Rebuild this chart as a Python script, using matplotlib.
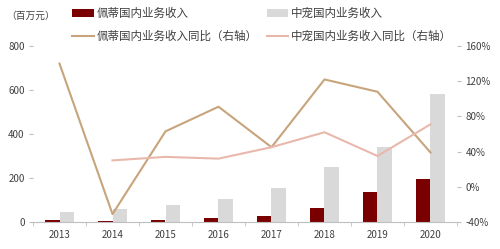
import matplotlib.pyplot as plt
import numpy as np

plt.rcParams['font.family'] = ['Noto Sans CJK SC', 'DejaVu Sans']

years = ['2013', '2014', '2015', '2016', '2017', '2018', '2019', '2020']
peidi_rev = [8, 4, 8, 18, 27, 64, 136, 195]
zhongchong_rev = [44, 59, 79, 106, 153, 250, 340, 580]
peidi_yoy = [140, -31, 63, 91, 45, 122, 108, 39]
zhongchong_yoy = [None, 30, 34, 32, 45, 62, 35, 71]

dark_red = '#7a0000'
light_gray = '#d9d9d9'
tan = '#c8a47c'
pink = '#e9b8ac'
txt = '#404040'

fig = plt.figure(figsize=(5, 2.49), dpi=100)
ax = fig.add_axes([33 / 500, 1 - 222 / 249, 424 / 500, 176 / 249])
ax2 = ax.twinx()

x = np.arange(len(years))
w = 0.28
b1 = ax.bar(x - w / 2, peidi_rev, w, color=dark_red, label='佩蒂国内业务收入', zorder=2)
b2 = ax.bar(x + w / 2, zhongchong_rev, w, color=light_gray, label='中宠国内业务收入', zorder=2)

zc = [np.nan if v is None else v for v in zhongchong_yoy]
l1, = ax2.plot(x, peidi_yoy, color=tan, lw=1.5, label='佩蒂国内业务收入同比（右轴）')
l2, = ax2.plot(x, zc, color=pink, lw=1.5, label='中宠国内业务收入同比（右轴）')

ax.set_xlim(-0.5, len(years) - 0.5)
ax.set_ylim(0, 800)
ax.set_yticks([0, 200, 400, 600, 800])
ax2.set_ylim(-40, 160)
ax2.set_yticks([-40, 0, 40, 80, 120, 160])
ax2.set_yticklabels([f'{v}%' for v in [-40, 0, 40, 80, 120, 160]])

ax.set_xticks(x)
ax.set_xticklabels(years)
ax.set_xticks(np.arange(len(years) + 1) - 0.5, minor=True)
ax.tick_params(axis='x', which='major', length=0, pad=6)
ax.tick_params(axis='x', which='minor', length=3, color='#bfbfbf')

for a in (ax, ax2):
    for s in ['top', 'left', 'right']:
        a.spines[s].set_visible(False)
    a.spines['bottom'].set_color('#bfbfbf')
    a.tick_params(labelsize=7, colors=txt)
ax.tick_params(axis='y', length=3, color='#bfbfbf', pad=3)
ax2.tick_params(axis='y', length=3, color='#bfbfbf', pad=3)
ax2.spines['bottom'].set_visible(False)

fig.text(6 / 500, 1 - 16 / 249, '（百万元）', fontsize=7, color=txt, va='center')

fig.legend([b1, l1, b2, l2],
           [b1.get_label(), l1.get_label(), b2.get_label(), l2.get_label()],
           ncol=2, loc='upper left', bbox_to_anchor=(64 / 500, 1.005),
           frameon=False, fontsize=8.3, labelcolor=txt,
           handlelength=1.9, handletextpad=0.2, columnspacing=0.8,
           labelspacing=0.85, borderaxespad=0.3)

fig.savefig('out.png', dpi=100)
